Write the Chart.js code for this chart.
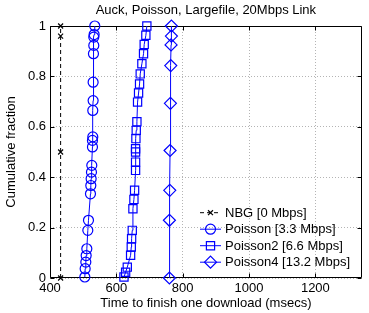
<!DOCTYPE html>
<html>
<head>
<meta charset="utf-8">
<script src="https://cdn.jsdelivr.net/npm/chart.js"></script>
<style>
  body { margin: 0; background: #fff; }
  canvas { display: block; }
</style>
</head>
<body>
<canvas id="cdfChart" width="369" height="313"></canvas>
<script>
// Datos
const xTicks = [400, 600, 800, 1000, 1200];
const yTicks = [0, 0.2, 0.4, 0.6, 0.8, 1];

const nbgTime = [432, 432, 432, 432];
const nbgFrac = [0, 0.5, 0.96, 1];

const poissonTime = [505, 506, 508, 509, 511, 514, 516, 522, 523, 524, 525, 526, 528, 528, 529, 529, 530, 530, 531, 532, 532, 533, 535];
const poissonFrac = [0.004, 0.037, 0.063, 0.089, 0.116, 0.189, 0.229, 0.334, 0.367, 0.394, 0.42, 0.447, 0.52, 0.546, 0.56, 0.665, 0.704, 0.777, 0.89, 0.923, 0.956, 0.966, 1];

const poisson2Time = [623, 628, 633, 643, 645, 646, 648, 650, 653, 655, 658, 658, 658, 658, 659, 660, 662, 664, 667, 670, 672, 677, 682, 684, 689, 692];
const poisson2Frac = [0.004, 0.023, 0.043, 0.09, 0.123, 0.156, 0.189, 0.275, 0.312, 0.348, 0.427, 0.46, 0.5, 0.513, 0.553, 0.586, 0.62, 0.698, 0.734, 0.77, 0.81, 0.85, 0.89, 0.927, 0.963, 1];

const poisson4Time = [760, 760, 761, 762, 763, 764, 765, 766, 766];
const poisson4Frac = [0, 0.229, 0.348, 0.506, 0.693, 0.843, 0.925, 0.96, 1];

const fontFamily = "'Liberation Sans', Arial, sans-serif";
const blue = '#0000ff';

Chart.defaults.font.family = fontFamily;
Chart.defaults.font.size = 13;
Chart.defaults.color = '#000';

function toPoints(xs, ys) {
  return xs.map((x, i) => ({ x: x, y: ys[i] }));
}

function serie(label, xs, ys, color, style, radius, dash) {
  return {
    label: label,
    data: toPoints(xs, ys),
    showLine: true,
    borderColor: color,
    borderWidth: 1,
    borderDash: dash || [],
    backgroundColor: 'rgba(0,0,0,0)',
    pointStyle: style,
    pointRadius: radius,
    pointBorderWidth: 1.2,
    pointBorderColor: color,
    pointBackgroundColor: 'rgba(0,0,0,0)',
    clip: false
  };
}

// Marco, ticks internos, titulo y leyenda
const marcoPlugin = {
  id: 'marco',
  beforeDatasetsDraw(chart) {
    const { ctx, chartArea: a, scales } = chart;
    ctx.save();
    ctx.strokeStyle = '#000';
    ctx.lineWidth = 1;
    const l = Math.round(a.left) + 0.5, r = Math.round(a.right) - 0.5;
    const t = Math.round(a.top) + 0.5, b = Math.round(a.bottom) - 0.5;
    ctx.beginPath();
    ctx.rect(l, t, r - l, b - t);
    xTicks.forEach(v => {
      const px = Math.round(scales.x.getPixelForValue(v)) + 0.5;
      ctx.moveTo(px, b); ctx.lineTo(px, b - 4);
      ctx.moveTo(px, t); ctx.lineTo(px, t + 4);
    });
    yTicks.forEach(v => {
      const py = Math.round(scales.y.getPixelForValue(v)) + 0.5;
      ctx.moveTo(l, py); ctx.lineTo(l + 4, py);
      ctx.moveTo(r, py); ctx.lineTo(r - 4, py);
    });
    ctx.stroke();
    ctx.restore();
  },
  afterDraw(chart) {
    const { ctx, chartArea: a } = chart;
    ctx.save();
    ctx.fillStyle = '#000';
    ctx.font = '13px ' + fontFamily;
    ctx.textAlign = 'center';
    ctx.textBaseline = 'middle';
    ctx.fillText('Auck, Poisson, Largefile, 20Mbps Link', (a.left + a.right) / 2, 10);

    // Leyenda
    const filaY = [212.7, 229.2, 245.7, 262.2];
    chart.data.datasets.forEach((ds, i) => {
      const y = filaY[i];
      ctx.strokeStyle = ds.borderColor;
      ctx.lineWidth = 1;
      ctx.setLineDash(ds.borderDash);
      ctx.beginPath();
      ctx.moveTo(200, y); ctx.lineTo(221, y);
      ctx.stroke();
      ctx.setLineDash([]);
      ctx.fillStyle = 'rgba(0,0,0,0)';
      ctx.lineWidth = 1.2;
      Chart.helpers.drawPoint(ctx, {
        pointStyle: ds.pointStyle, radius: ds.pointRadius, rotation: 0, borderWidth: 1.2
      }, 210.5, y);
      ctx.fillStyle = '#000';
      ctx.textAlign = 'left';
      ctx.fillText(ds.label, 225, y + 0.5);
    });
    ctx.restore();
  }
};

const ctx = document.getElementById('cdfChart').getContext('2d');
new Chart(ctx, {
  type: 'scatter',
  data: {
    datasets: [
      serie('NBG [0 Mbps]', nbgTime, nbgFrac, '#000', 'crossRot', 3.5, [4, 3]),
      serie('Poisson [3.3 Mbps]', poissonTime, poissonFrac, blue, 'circle', 5),
      serie('Poisson2 [6.6 Mbps]', poisson2Time, poisson2Frac, blue, 'rect', 5.8),
      serie('Poisson4 [13.2 Mbps]', poisson4Time, poisson4Frac, blue, 'rectRot', 6)
    ]
  },
  options: {
    responsive: false,
    animation: false,
    layout: { padding: { top: 26, right: 1, left: 0, bottom: 0 } },
    plugins: {
      legend: { display: false },
      tooltip: { enabled: false },
      title: { display: false }
    },
    scales: {
      x: {
        type: 'linear',
        min: 400,
        max: 1340,
        afterBuildTicks: s => { s.ticks = xTicks.map(v => ({ value: v })); },
        afterFit: s => { s.height = 35; },
        grid: { color: '#b4b4b4', lineWidth: 1, drawTicks: false },
        border: { display: false, dash: [1, 2] },
        ticks: { padding: 3, maxRotation: 0, autoSkip: false, callback: v => String(v) },
        title: {
          display: true,
          text: 'Time to finish one download (msecs)',
          font: { size: 13 },
          padding: { top: 0, bottom: 2 }
        }
      },
      y: {
        type: 'linear',
        min: 0,
        max: 1,
        afterBuildTicks: s => { s.ticks = yTicks.map(v => ({ value: v })); },
        afterFit: s => { s.width = 50; },
        grid: { color: '#b4b4b4', lineWidth: 1, drawTicks: false },
        border: { display: false, dash: [1, 2] },
        ticks: { padding: 4, autoSkip: false, callback: v => String(v) },
        title: {
          display: true,
          text: 'Cumulative fraction',
          font: { size: 13 },
          padding: { top: 4, bottom: 0 }
        }
      }
    }
  },
  plugins: [marcoPlugin]
});
</script>
</body>
</html>
